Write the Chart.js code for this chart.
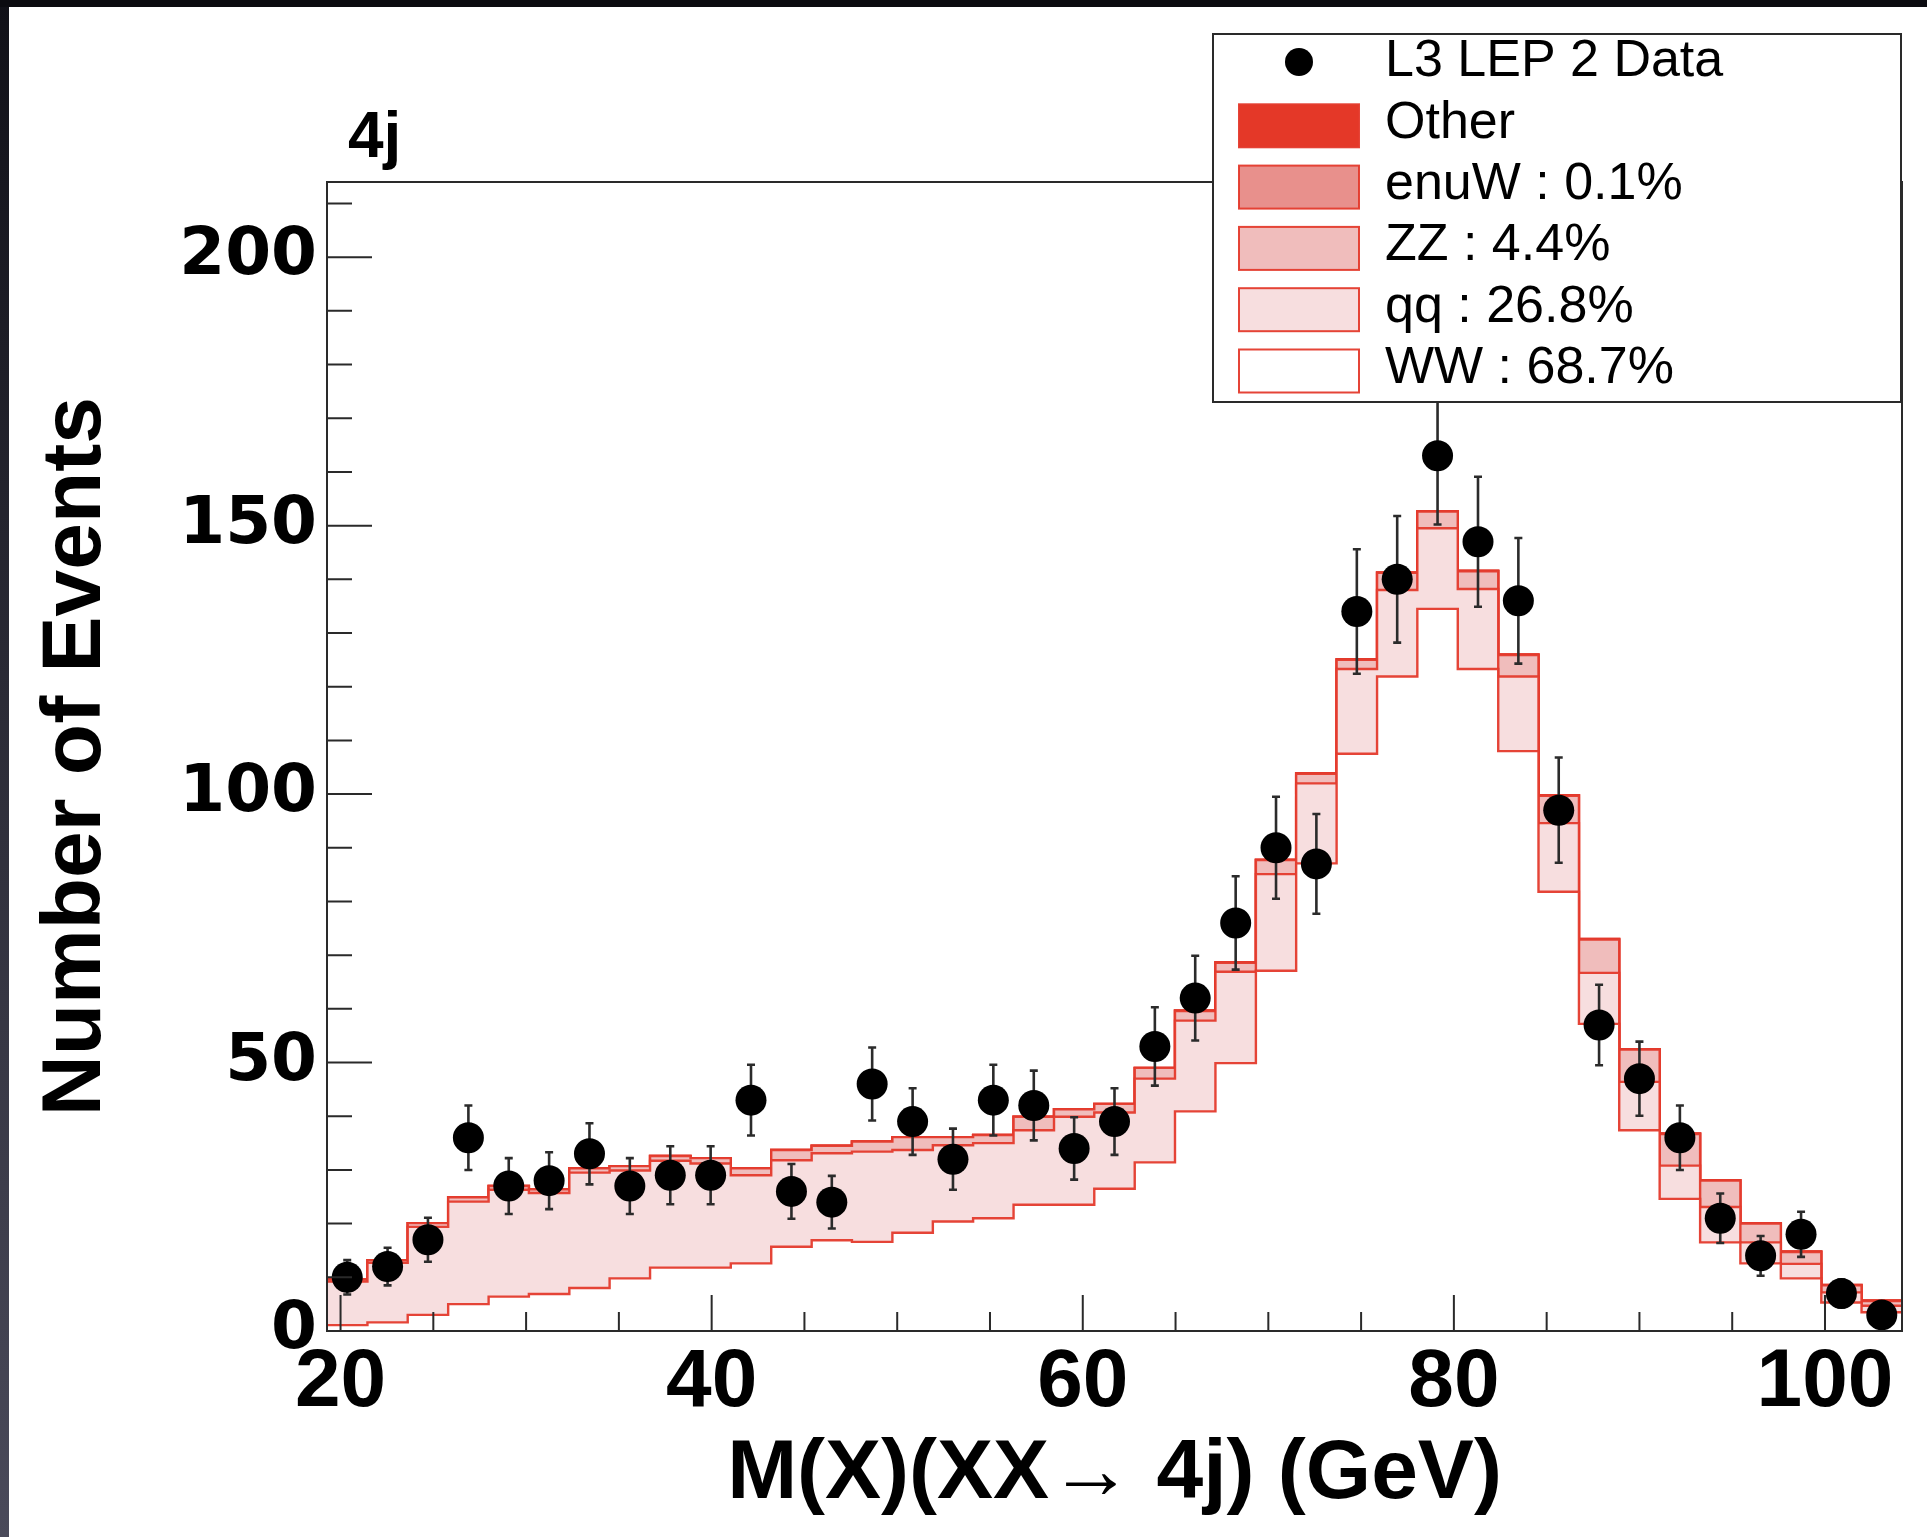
<!DOCTYPE html>
<html>
<head>
<meta charset="utf-8">
<script src="https://cdn.jsdelivr.net/npm/chart.js@4/dist/chart.umd.min.js"></script>
<style>
html,body{margin:0;padding:0;width:1927px;height:1537px;overflow:hidden;background:linear-gradient(to bottom,#111118,#4a4a5a);}
#topband{position:absolute;left:0;top:0;width:1927px;height:7px;background:#0b0b10;}
#wrap{position:absolute;left:9px;top:7px;width:1918px;height:1530px;background:#fff;}
canvas{display:block;}
</style>
</head>
<body>
<div id="topband"></div>
<div id="wrap"><canvas id="c" width="1918" height="1530"></canvas></div>
<script>
// ---------- data ----------
const binEdges = [19.27,21.45,23.62,25.80,27.98,30.15,32.33,34.50,36.68,38.86,
                  41.03,43.21,45.39,47.56,49.74,51.92,54.09,56.27,58.45,60.62,
                  62.80,64.97,67.15,69.33,71.50,73.68,75.86,78.03,80.21,82.39,
                  84.56,86.74,88.91,91.09,93.27,95.44,97.62,99.80,101.97,104.15];
const dataCounts = [10,12,17,36,27,28,33,27,29,29,43,26,24,46,39,32,43,42,34,39,
                    53,62,76,90,87,134,140,163,147,136,97,57,47,36,21,14,18,7,3];
const dataErrors = [3.2,3.5,4.1,6.0,5.2,5.3,5.7,5.2,5.4,5.4,6.6,5.1,4.9,6.8,6.2,5.7,6.6,6.5,5.8,6.2,
                    7.3,7.9,8.7,9.5,9.3,11.6,11.8,12.8,12.1,11.7,9.8,7.5,6.9,6.0,4.6,3.7,4.2,2.6,1.7];
const wwValues = [1.1,1.6,3.0,5.0,6.4,6.9,8.0,9.8,11.8,11.8,12.6,15.7,16.9,16.6,18.3,20.4,21.0,23.5,23.5,26.5,
                  31.4,40.9,49.9,67.1,87.1,107.5,121.9,134.5,123.3,108.0,81.8,57.2,37.4,24.6,16.5,12.6,9.8,5.3,3.5];
const qqValues = [8.1,11.1,16.4,19.1,19.9,18.8,21.5,20.1,19.9,19.4,16.4,16.1,16.2,16.8,15.4,14.2,14.0,13.9,16.4,14.2,
                  15.6,16.9,17.0,18.0,14.9,15.8,16.1,15.0,14.9,13.9,12.8,9.5,9.0,6.2,6.6,3.9,2.7,1.9,1.2];
const zzValues = [0.4,0.5,0.7,0.8,0.7,0.7,0.8,0.8,0.9,1.0,1.3,1.9,1.4,1.9,2.4,1.5,1.5,2.5,1.4,1.6,
                  2.0,1.8,1.7,2.6,1.8,1.7,3.2,3.1,3.3,4.0,5.1,6.2,6.0,5.9,4.9,3.5,2.2,1.3,0.9];
const enuwValues = [0,0,0,0,0,0,0,0,0,0,0,0,0,0,0,0,0,0,0,0,
                    0,0.1,0.1,0.1,0.1,0.1,0.1,0.1,0.1,0.1,0.1,0.1,0.1,0.1,0.1,0.1,0.1,0.1,0.1];
const otherValues = [0,0,0,0,0,0,0,0,0,0,0,0,0,0,0,0,0,0,0,0,
                     0,0,0,0,0,0,0,0,0,0,0,0,0,0,0,0,0,0,0];
const xTickLabels = [20,40,60,80,100];
const yTickLabels = [0,50,100,150,200];
const xMinorStep = 5, yMinorStep = 10;
const xTitle = 'M(X)(XX\u2192 4j) (GeV)';
const yTitle = 'Number of Events';
const channelLabel = '4j';
const labels = {data:'L3 LEP 2 Data', other:'Other', enuw:'enuW : 0.1%', zz:'ZZ : 4.4%', qq:'qq : 26.8%', ww:'WW : 68.7%'};

// ---------- helpers ----------
function stepPoints(values){
  const pts = values.map((v,i)=>({x:binEdges[i], y:v}));
  pts.push({x:binEdges[values.length], y:values[values.length-1]});
  return pts;
}
const dataPoints = dataCounts.map((v,i)=>({x:(binEdges[i]+binEdges[i+1])/2, y:v}));

const RED = 'rgba(228,58,44,0.95)';
const FONT = "'Liberation Sans', Arial, Helvetica, sans-serif";

function layer(label, values, fill, bg){
  return {label, data:stepPoints(values), stepped:true, fill, backgroundColor:bg,
          borderColor:RED, borderWidth:2.4, pointRadius:0, pointHoverRadius:0, order:0};
}

// ---------- plugins ----------
const errorBars = {
  id:'errorBars',
  beforeDatasetDraw(chart, args){
    const ds = chart.data.datasets[args.index];
    if(!ds.errors) return;
    const ctx = chart.ctx, xs = chart.scales.x, ys = chart.scales.y;
    ctx.save();
    ctx.strokeStyle = '#2b2b2b'; ctx.lineWidth = 2.6;
    ds.data.forEach((p,i)=>{
      const px = xs.getPixelForValue(p.x);
      const t = ys.getPixelForValue(p.y + ds.errors[i]);
      const b = ys.getPixelForValue(p.y - ds.errors[i]);
      ctx.beginPath();
      ctx.moveTo(px,t); ctx.lineTo(px,b);
      ctx.moveTo(px-4,t); ctx.lineTo(px+4,t);
      ctx.moveTo(px-4,b); ctx.lineTo(px+4,b);
      ctx.stroke();
    });
    ctx.restore();
  }
};

const frameTicks = {
  id:'frameTicks',
  afterDatasetsDraw(chart){
    const ctx = chart.ctx, a = chart.chartArea, xs = chart.scales.x, ys = chart.scales.y;
    ctx.save();
    ctx.strokeStyle = '#2a2a2a'; ctx.lineWidth = 2;
    ctx.strokeRect(a.left, a.top, a.right-a.left, a.bottom-a.top);
    ctx.beginPath();
    for(let v = 0; v <= ys.max; v += yMinorStep){
      const py = ys.getPixelForValue(v);
      const len = (v % 50 === 0) ? 45 : 25;
      ctx.moveTo(a.left, py); ctx.lineTo(a.left+len, py);
    }
    for(let v = Math.ceil(xs.min/xMinorStep)*xMinorStep; v <= xs.max; v += xMinorStep){
      const px = xs.getPixelForValue(v);
      const len = (v % 20 === 0) ? 36 : 19;
      ctx.moveTo(px, a.bottom); ctx.lineTo(px, a.bottom-len);
    }
    ctx.stroke();
    ctx.restore();
  }
};

const legendBox = {
  id:'legendBox',
  afterDraw(chart){
    const ctx = chart.ctx;
    const box = {x:1204, y:27, w:688, h:368};
    ctx.save();
    ctx.fillStyle = '#fff';
    ctx.fillRect(box.x, box.y, box.w, box.h);
    ctx.strokeStyle = '#2a2a2a'; ctx.lineWidth = 2;
    ctx.strokeRect(box.x, box.y, box.w, box.h);
    const ds = chart.data.datasets;
    const order = [5,4,3,2,1,0];
    ctx.font = '52px ' + FONT;
    ctx.textBaseline = 'middle';
    order.forEach((di,row)=>{
      const d = ds[di];
      const cy = 55 + row*61.3;
      if(d.errors){
        ctx.fillStyle = '#000';
        ctx.beginPath(); ctx.arc(1290, cy, 14, 0, Math.PI*2); ctx.fill();
      } else {
        ctx.fillStyle = d.backgroundColor;
        ctx.fillRect(1230, cy-19, 120, 43);
        ctx.strokeStyle = RED; ctx.lineWidth = 2;
        ctx.strokeRect(1230, cy-19, 120, 43);
      }
      ctx.fillStyle = '#000';
      ctx.fillText(d.label, 1376, cy);
    });
    ctx.font = 'bold 64px ' + FONT;
    ctx.textBaseline = 'alphabetic';
    ctx.fillText(channelLabel, 339, 150);
    ctx.restore();
  }
};

// ---------- chart ----------
new Chart(document.getElementById('c'), {
  type:'line',
  data:{datasets:[
    layer(labels.ww, wwValues, 'origin', '#ffffff'),
    layer(labels.qq, qqValues, '-1', 'rgb(247,222,223)'),
    layer(labels.zz, zzValues, '-1', 'rgb(240,189,188)'),
    layer(labels.enuw, enuwValues, '-1', 'rgb(232,144,140)'),
    layer(labels.other, otherValues, '-1', 'rgb(228,56,40)'),
    {type:'scatter', label:labels.data, data:dataPoints, stack:'obs', order:-1,
     pointRadius:15.5, pointHoverRadius:15.5, pointBackgroundColor:'#000', backgroundColor:'#000',
     pointBorderWidth:0, borderWidth:0, showLine:false, clip:false, errors:dataErrors}
  ]},
  options:{
    responsive:false, animation:false, events:[],
    layout:{padding:{left:0, top:175, right:25, bottom:0}},
    plugins:{legend:{display:false}, tooltip:{enabled:false}},
    scales:{
      x:{
        type:'linear', min:binEdges[0], max:binEdges[binEdges.length-1],
        grid:{display:false, drawTicks:false}, border:{display:false},
        afterBuildTicks:s=>{ s.ticks = xTickLabels.map(v=>({value:v})); },
        afterFit:s=>{ s.height = 206; },
        ticks:{autoSkip:false, maxRotation:0, minRotation:0, padding:3, color:'#000',
               font:{family:FONT, weight:'bold', size:82}},
        title:{display:true, text:xTitle, color:'#000',
               font:{family:FONT, weight:'bold', size:84, lineHeight:1}, padding:{top:0, bottom:20}}
      },
      y:{
        type:'linear', stacked:true, min:0, max:214,
        grid:{display:false, drawTicks:false}, border:{display:false},
        afterBuildTicks:s=>{ s.ticks = yTickLabels.map(v=>({value:v})); },
        afterFit:s=>{ s.width = 318; },
        ticks:{padding:10, color:'#000', font:{family:"'DejaVu Sans'", weight:'bold', size:66}},
        title:{display:true, text:yTitle, color:'#000',
               font:{family:FONT, weight:'bold', size:84, lineHeight:1}, padding:{top:26, bottom:0}}
      }
    }
  },
  plugins:[errorBars, frameTicks, legendBox]
});
</script>
</body>
</html>
